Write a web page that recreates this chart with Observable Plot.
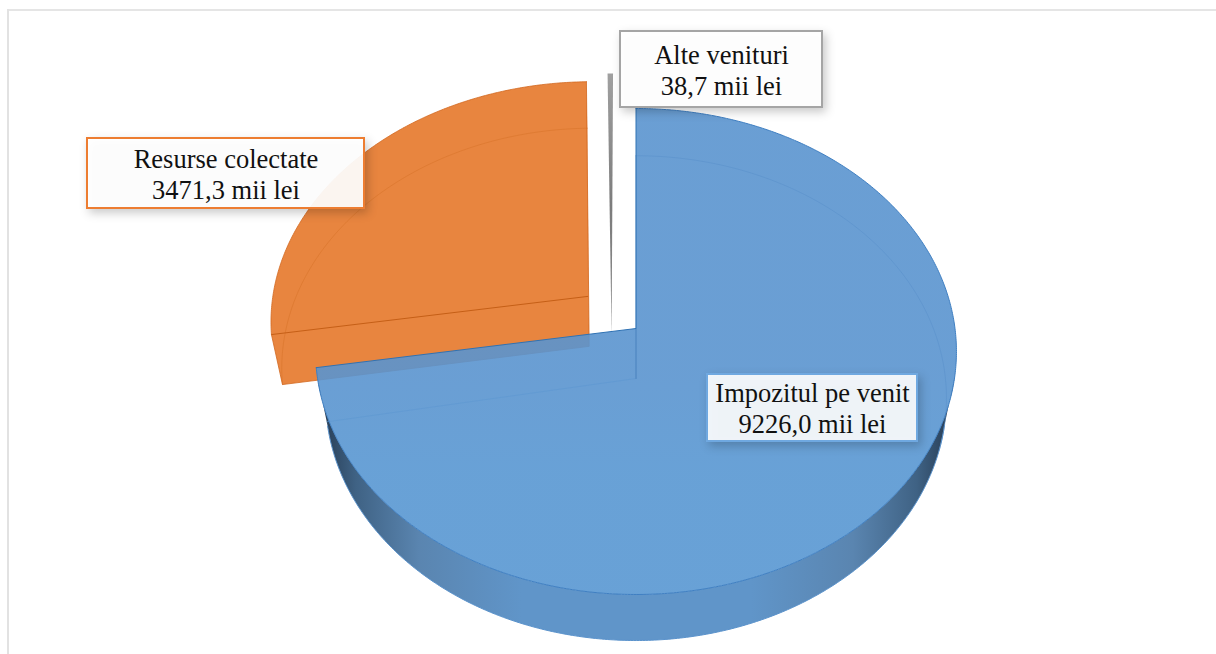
<!DOCTYPE html>
<html>
<head>
<meta charset="utf-8">
<style>html,body{margin:0;padding:0;background:#fff;overflow:hidden}svg{display:block}</style>
<script src="https://cdn.jsdelivr.net/npm/d3@7"></script>
<script src="https://cdn.jsdelivr.net/npm/@observablehq/plot@0.6"></script>
</head>
<body>
<div id="chart"></div>
<script>
// Data
const categories = ["Impozitul pe venit", "Resurse colectate", "Alte venituri"];
const values = [9226.0, 3471.3, 38.7];
const unit = "mii lei";

// Pie view settings
const cx = 635.5, cy = 328, rx = 319, ry = 240.8, persp = 0.0947, floorPersp = 0.081, depth = 50, floorX = 0.97;
const explodeU = [0, -0.153, -0.08];
const explodeV = [0, -0.135, -0.177];
const boxLeft = [707, 87, 620], boxRight = [917, 364, 822], boxTop = [374, 138, 31], boxBottom = [441, 208, 107];
const boxStroke = ["#6fa8e0", "#ed7d31", "#a5a5a5"];
const boxFill = [0.9, 0.93, 0.95];

// Slice angles (clockwise from 12 o'clock) come from the values
const total = d3.sum(values);
let acc = 0;
const angles = values.map(v => { const a0 = acc; acc += v / total * 360; return [a0, acc]; });

function project(deg, r, i, floor) {
  const t = deg * Math.PI / 180;
  const u = r * Math.sin(t) + explodeU[i], v = -r * Math.cos(t) + explodeV[i];
  const w = 1 - (floor ? floorPersp : persp) * v;
  const sx = floor ? floorX : 1;
  return {x: cx + sx * rx * u / w, y: cy + (floor ? depth : 0) + ry * v / w};
}
function arc(a0, a1, i, floor) {
  const n = Math.max(2, Math.ceil(Math.abs(a1 - a0) * 2));
  return d3.range(n + 1).map(j => project(a0 + (a1 - a0) * j / n, 1, i, floor));
}
const apex = (i, floor) => project(0, 0, i, floor);

// Blue
const [b0, b1] = angles[0];
const blueTop = [apex(0, false), ...arc(b0, b1, 0, false)];
const blueWall = [...arc(101, b1 - 2, 0, true), ...arc(b1 - 2, 101, 0, false)];
const blueInnerArc = arc(b0, 107, 0, true);
const blueInnerVert = [project(b0, 1, 0, true), apex(0, true)];
const blueInnerRad = [apex(0, true), project(b1 - 1, 1, 0, true)];
const blueEdge = [project(b0, 1, 0, false), apex(0, false), project(b1, 1, 0, false)];
const blueVert = [apex(0, false), apex(0, true)];
const blueOuter = arc(b0, b1, 0, false);
const blueFloorFront = arc(101, b1 - 2, 0, true);

// Orange
const [o0, o1] = angles[1];
const orangeShape = [...arc(o0, o1, 1, false), project(o1, 1, 1, true), apex(1, true), project(o0, 1, 1, true)];
const orangeRad = [project(o0, 1, 1, false), apex(1, false)];
const orangeInner = arc(o0, o1, 1, true);
const orangeEdge = [project(o1, 1, 1, false), apex(1, true), project(o0, 1, 1, true), project(o0, 1, 1, false), ...arc(o0, o1, 1, false)];

// Grey
const [g0, g1] = angles[2];
const greyShape = [...arc(g0, g1, 2, false), apex(2, true)];

const boxes = categories.map((c, i) => ({c, l: boxLeft[i], r: boxRight[i], t: boxTop[i], b: boxBottom[i], s: boxStroke[i], f: boxFill[i]}));
const lines = boxes.flatMap((d, i) => {
  const mx = (d.l + d.r) / 2, my = (d.t + d.b) / 2;
  return [
    {x: mx, y: my - 14, text: d.c},
    {x: mx, y: my + 17, text: values[i].toFixed(1).replace(".", ",") + " " + unit}
  ];
});

const path = (data, o) => Plot.line(data, {x: "x", y: "y", curve: "linear", ...o});
const closed = (data, o) => Plot.line(data, {x: "x", y: "y", curve: "linear-closed", stroke: "none", ...o});

const svg = Plot.plot({
  width: 1216, height: 654, margin: 0,
  x: {domain: [0, 1216], range: [0, 1216], axis: null},
  y: {domain: [0, 654], range: [0, 654], axis: null},
  marks: [
    Plot.ruleY([9.5], {x1: 7, x2: 1216, stroke: "#dcdcdc", strokeWidth: 1.5}),
    Plot.ruleX([7.5], {y1: 9, y2: 654, stroke: "#e2e2e2", strokeWidth: 2}),
    closed(blueWall, {fill: "url(#wall)"}),
    path(blueFloorFront, {stroke: "#5b93cc", strokeWidth: 1}),
    closed(orangeShape, {fill: "#e8853f"}),
    path(orangeInner, {stroke: "#d9742c", strokeWidth: 1, strokeOpacity: 0.6}),
    path(orangeRad, {stroke: "#c55f17", strokeWidth: 1}),
    path(orangeEdge, {stroke: "#d2681f", strokeWidth: 1, strokeOpacity: 0.8}),
    closed(greyShape, {fill: "url(#grey)"}),
    closed(blueTop, {fill: "url(#top)", fillOpacity: 0.9}),
    path(blueInnerArc, {stroke: "#5a90cb", strokeWidth: 1, strokeOpacity: 0.55}),
    path(blueInnerVert, {stroke: "#5a90cb", strokeWidth: 1, strokeOpacity: 0.55}),
    path(blueInnerRad, {stroke: "#5f98d2", strokeWidth: 1, strokeOpacity: 0.7}),
    path(blueVert, {stroke: "#4f86c0", strokeWidth: 1}),
    path(blueOuter, {stroke: "#3f7fc2", strokeWidth: 1}),
    path(blueEdge, {stroke: "#2f72b4", strokeWidth: 1}),
    Plot.rect(boxes, {x1: "l", x2: "r", y1: "t", y2: "b", fill: "#fff", fillOpacity: "f", stroke: "s", strokeWidth: 2,
      imageFilter: "drop-shadow(3px 4px 5px rgba(0,0,0,0.22))"}),
    Plot.text(lines, {x: "x", y: "y", text: "text", fontFamily: "Liberation Serif", fontSize: 26.5, fill: "#111", textAnchor: "middle", lineAnchor: "middle"})
  ]
});

const defs = document.createElementNS("http://www.w3.org/2000/svg", "defs");
defs.innerHTML = `
<linearGradient id="wall" x1="0" x2="1" y1="0" y2="0">
  <stop offset="0" stop-color="#24384f"/>
  <stop offset="0.06" stop-color="#3f6284"/>
  <stop offset="0.16" stop-color="#5a85b0"/>
  <stop offset="0.32" stop-color="#6095c9"/>
  <stop offset="0.68" stop-color="#6095c9"/>
  <stop offset="0.84" stop-color="#5a85b0"/>
  <stop offset="0.94" stop-color="#3f6284"/>
  <stop offset="1" stop-color="#24384f"/>
</linearGradient>
<linearGradient id="top" x1="0" x2="0" y1="0" y2="1">
  <stop offset="0" stop-color="#5a94cf"/>
  <stop offset="0.55" stop-color="#5a94cf"/>
  <stop offset="0.75" stop-color="#5897d2"/>
  <stop offset="1" stop-color="#5897d2"/>
</linearGradient>
<linearGradient id="grey" x1="0" x2="0" y1="0" y2="1">
  <stop offset="0" stop-color="#a0a0a0"/>
  <stop offset="0.5" stop-color="#7c7c7c"/>
  <stop offset="1" stop-color="#8c8c8c"/>
</linearGradient>`;
svg.insertBefore(defs, svg.firstChild);
document.getElementById("chart").appendChild(svg);
</script>
</body>
</html>
